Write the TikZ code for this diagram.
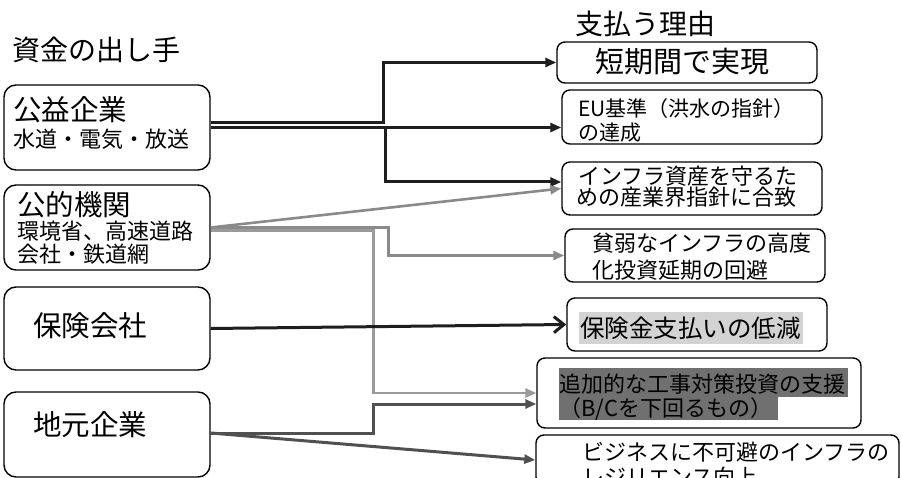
\documentclass[tikz,border=0pt]{standalone}
\usepackage{fontspec}
\setmainfont{Noto Sans CJK JP}
\usetikzlibrary{arrows.meta}
\definecolor{lineblack}{HTML}{1E1E1E}
\definecolor{linegray}{HTML}{8A8A8A}
\definecolor{linelight}{HTML}{9A9A9A}
\definecolor{linedark}{HTML}{505050}
\definecolor{hlLight}{HTML}{D3D3D3}
\definecolor{hlDark}{HTML}{707070}
\begin{document}
\begin{tikzpicture}[x=1pt,y=-1pt,
  srcbox/.style={draw=black, line width=1.4pt, rounded corners=12pt, inner sep=0pt, minimum width=206pt},
  rsnbox/.style={draw=black, line width=1.4pt, rounded corners=8pt, inner sep=0pt},
  txt/.style={anchor=west, inner sep=0pt, text=black},
  big/.style={font=\fontsize{28.5}{30}\selectfont},
  mid/.style={font=\fontsize{22}{24}\selectfont},
  tipf/.style={-{Triangle[length=11pt,width=9pt]}},
  conblack/.style={draw=lineblack, line width=3pt, tipf},
  congray/.style={draw=linegray, line width=2.6pt, tipf},
  conlight/.style={draw=linelight, line width=2.6pt, tipf},
  condark/.style={draw=linedark, line width=3pt, tipf},
]
\clip (0,0) rectangle (902,478);
\fill[white] (0,0) rectangle (902,478);

% titles
\node[txt, font=\fontsize{28}{30}\selectfont] (tleft) at (12,50) {資金の出し手};
\node[txt, font=\fontsize{28}{30}\selectfont] (tright) at (575,24) {支払う理由};

% source boxes
\node[srcbox, minimum height=85pt] (koeki) at (107,127.5) {};
\node[srcbox, minimum height=85pt] (koteki) at (107,227.5) {};
\node[srcbox, minimum height=83pt] (hoken) at (107,328.5) {};
\node[srcbox, minimum height=85pt] (jimoto) at (107,434.5) {};

\node[txt, big] (koekiA) at (13,110) {公益企業};
\node[txt, mid] (koekiB) at (13,139) {水道・電気・放送};
\node[txt, big] (kotekiA) at (17,205) {公的機関};
\node[txt, mid] (kotekiB) at (17,231) {環境省、高速道路};
\node[txt, mid] (kotekiC) at (17,254) {会社・鉄道網};
\node[txt, big] (hokenA) at (33,326) {保険会社};
\node[txt, big] (jimotoA) at (33,425) {地元企業};

% reason boxes
\node[rsnbox, minimum width=260pt, minimum height=41pt] (tanki) at (687,62.5) {};
\node[rsnbox, minimum width=260pt, minimum height=54pt] (eu) at (692,117) {};
\node[rsnbox, minimum width=260pt, minimum height=53pt] (infra) at (692,188.5) {};
\node[rsnbox, minimum width=260pt, minimum height=53pt] (hinjaku) at (695,255.5) {};
\node[rsnbox, minimum width=260pt, minimum height=53pt] (hokenkin) at (697,324.5) {};
\node[rsnbox, minimum width=324pt, minimum height=70pt] (tsuika) at (699,393) {};
\node[rsnbox, minimum width=363pt, minimum height=50pt] (biz) at (717.5,460) {};

% highlights
\fill[hlLight] (579,312) rectangle (803,344);
\fill[hlDark] (559,368) rectangle (848,397);
\fill[hlDark] (559,397) rectangle (778,420);

\node[txt, font=\fontsize{29}{31}\selectfont] (tankiA) at (595,62) {短期間で実現};
\node[txt, font=\fontsize{21}{23}\selectfont] (euA) at (578,109) {EU基準（洪水の指針）};
\node[txt, font=\fontsize{21}{23}\selectfont] (euB) at (578,133) {の達成};
\node[txt, mid] (infraA) at (578,176) {インフラ資産を守るた};
\node[txt, mid] (infraB) at (576,197) {めの産業界指針に合致};
\node[txt, mid] (hinjakuA) at (592,243) {貧弱なインフラの高度};
\node[txt, mid] (hinjakuB) at (592,270) {化投資延期の回避};
\node[txt, font=\fontsize{24.5}{26}\selectfont] (hokenkinA) at (580,328) {保険金支払いの低減};
\node[txt, mid] (tsuikaA) at (559,384) {追加的な工事対策投資の支援};
\node[txt, mid] (tsuikaB) at (559,409) {（B/Cを下回るもの）};
\node[txt, mid] (bizA) at (582,452) {ビジネスに不可避のインフラの};
\node[txt, mid] (bizB) at (582,477) {レジリエンス向上};

% connectors from 公益企業
\draw[conblack] ([yshift=5pt]koeki.east) -- ++(173,0) |- (tanki.west);
\draw[conblack] (koeki.east) -- (koeki.east -| eu.west);
\draw[conblack] (koeki.east) -- ++(175,0) |- ([yshift=6.5pt]infra.west);

% connectors from 公的機関
\draw[conlight] ([yshift=-3pt]koteki.east) -- ++(163,0) |- (tsuika.west);
\draw[congray] (koteki.east) -- (infra.west);
\draw[congray] (koteki.east) -- ++(178,0) |- (hinjaku.west);

% 保険会社
\draw[draw=lineblack, line width=3pt, -{Straight Barb[length=10pt,width=16pt]}] (hoken.east) -- (hokenkin.west);

% 地元企業
\draw[condark] ([yshift=1.5pt]jimoto.east) -- ++(163,0) |- ([yshift=-11pt]tsuika.west);
\draw[condark] ([yshift=1.5pt]jimoto.east) -- (biz.west);
\end{tikzpicture}
\end{document}
